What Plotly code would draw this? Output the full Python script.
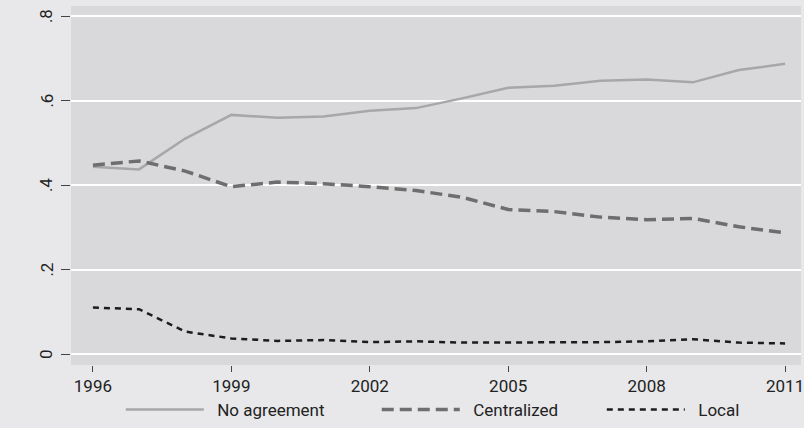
import plotly.graph_objects as go

years = list(range(1996, 2012))
no_agreement = [0.443, 0.437, 0.510, 0.566, 0.559, 0.562, 0.576, 0.582, 0.605, 0.630, 0.635, 0.647, 0.650, 0.643, 0.672, 0.687]
centralized = [0.447, 0.457, 0.433, 0.396, 0.407, 0.403, 0.396, 0.387, 0.371, 0.342, 0.337, 0.324, 0.318, 0.321, 0.301, 0.287]
local = [0.110, 0.106, 0.053, 0.037, 0.031, 0.033, 0.028, 0.030, 0.027, 0.027, 0.027, 0.028, 0.030, 0.035, 0.027, 0.025]
x_ticks = [1996, 1999, 2002, 2005, 2008, 2011]
y_ticks = [0, 0.2, 0.4, 0.6, 0.8]
y_tick_labels = ["0", ".2", ".4", ".6", ".8"]
names = ["No agreement", "Centralized", "Local"]

FONT = "Roboto"
PAD = "\u00a0\u00a0"
fig = go.Figure()
fig.add_trace(go.Scatter(x=years, y=no_agreement, mode="lines", name=PAD + names[0],
                         line=dict(color="#a7a7a7", width=2.5), legend="legend"))
fig.add_trace(go.Scatter(x=years, y=centralized, mode="lines", name=PAD + names[1],
                         line=dict(color="#6e6e6e", width=3.5, dash="12px,6px"), legend="legend2"))
fig.add_trace(go.Scatter(x=years, y=local, mode="lines", name=PAD + names[2],
                         line=dict(color="#1c1c1c", width=2.5, dash="6px,5px"), legend="legend3"))

leg_common = dict(orientation="h", yanchor="middle", y=-0.125, xanchor="left",
                  font=dict(family=FONT, size=17, color="#222"), itemwidth=78,
                  bgcolor="rgba(0,0,0,0)", borderwidth=0)
W = 733.0

# y tick labels rotated, drawn as annotations at the tick values
for v, t in zip(y_ticks, y_tick_labels):
    fig.add_annotation(x=(46 - 71) / W, xref="paper", y=v, yref="y", text=t,
                       textangle=-90, showarrow=False, xanchor="center", yanchor="middle",
                       font=dict(family=FONT, size=17, color="#222"))

fig.update_layout(
    width=804, height=428,
    margin=dict(l=71, r=0, t=6, b=63),
    paper_bgcolor="#e8e8ea", plot_bgcolor="#d9d9db",
    font=dict(family=FONT, size=17, color="#222"),
    showlegend=True,
    legend=dict(leg_common, x=(128 - 71 - 7) / W),
    legend2=dict(leg_common, x=(385 - 71 - 7) / W),
    legend3=dict(leg_common, x=(611 - 71 - 7) / W),
    xaxis=dict(range=[1995.525, 2011.345], tickvals=x_ticks, ticks="outside", ticklen=6,
               tickcolor="#444", tickwidth=1, showgrid=False, zeroline=False, showline=False,
               ticklabeloverflow="allow",
               tickfont=dict(family=FONT, size=17, color="#222")),
    yaxis=dict(range=[-0.026, 0.8237], tickvals=y_ticks, showticklabels=False,
               ticks="outside", ticklen=9, tickcolor="#444", tickwidth=1,
               showgrid=True, gridcolor="#ffffff", gridwidth=1.8, zeroline=False,
               showline=False),
)
fig.write_html("out.html", config={"displayModeBar": False},
               post_script="document.body.style.margin='0';document.body.style.overflow='hidden';")
